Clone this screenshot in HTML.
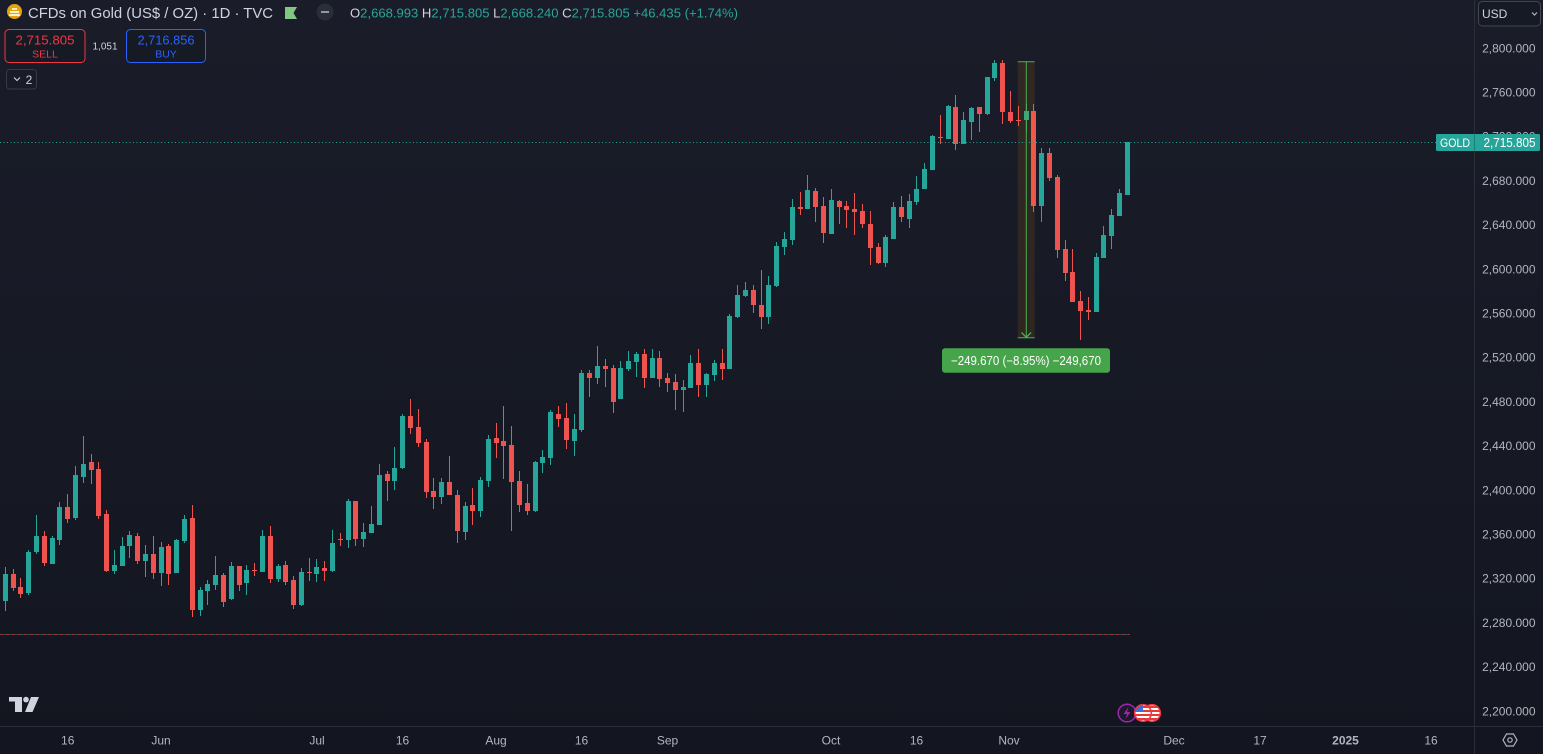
<!DOCTYPE html>
<html><head><meta charset="utf-8"><style>
html,body{margin:0;padding:0;background:#161a25;overflow:hidden;}
svg{display:block;font-family:"Liberation Sans",sans-serif;}
</style></head><body>
<svg id="s" width="1543" height="754" viewBox="0 0 1543 754" xmlns="http://www.w3.org/2000/svg">
<defs>
<linearGradient id="bg" x1="0" y1="0" x2="0" y2="1"><stop offset="0" stop-color="#1a1d29"/><stop offset="1" stop-color="#131620"/></linearGradient>
<clipPath id="f1"><circle cx="1152" cy="713" r="8"/></clipPath>
<clipPath id="f2"><circle cx="1143" cy="713" r="8"/></clipPath>
</defs>
<rect width="1543" height="754" fill="url(#bg)"/>

<!-- dashed low line -->
<line x1="0" y1="634.5" x2="1130" y2="634.5" stroke="#ef5350" stroke-opacity="0.55" stroke-dasharray="3 3"/>
<line x1="3" y1="634.5" x2="1130" y2="634.5" stroke="#26a69a" stroke-opacity="0.45" stroke-dasharray="3 3"/>

<g id="candles"></g>

<!-- measure tool -->
<rect x="1017.7" y="61.3" width="17" height="277" fill="rgba(255,152,0,0.1)"/>
<line x1="1026.3" y1="61.3" x2="1026.3" y2="338.3" stroke="#4caf50" stroke-width="1"/>
<line x1="1017.7" y1="61.8" x2="1034.7" y2="61.8" stroke="#4caf50" stroke-width="1"/>
<line x1="1017.7" y1="337.8" x2="1034.7" y2="337.8" stroke="#4caf50" stroke-width="1"/>
<polyline points="1021.5,332.5 1026.3,337.3 1031.1,332.5" fill="none" stroke="#4caf50" stroke-width="1.3"/>
<rect x="942" y="348.3" width="168" height="24.5" rx="3" fill="#46a54a"/>
<text x="1026" y="365" font-size="12.5" fill="#ffffff" text-anchor="middle" textLength="150" lengthAdjust="spacingAndGlyphs">−249.670 (−8.95%) −249,670</text>

<!-- current price dotted line -->
<line x1="0" y1="142.5" x2="1436" y2="142.5" stroke="#26a69a" stroke-width="1" stroke-dasharray="1 2.5"/>

<!-- axes separators -->
<line x1="0" y1="726.5" x2="1543" y2="726.5" stroke="#2a2e39"/>
<line x1="1474.5" y1="0" x2="1474.5" y2="754" stroke="#2a2e39"/>

<g id="paxis" font-size="12" fill="#b2b5be" text-anchor="end"></g>

<!-- GOLD label -->
<rect x="1436" y="134" width="104" height="17" rx="1.5" fill="#26a69a"/>
<line x1="1474.5" y1="134" x2="1474.5" y2="151" stroke="#1e7f76"/>
<text x="1440" y="147" font-size="12" fill="#ffffff" textLength="30" lengthAdjust="spacingAndGlyphs">GOLD</text>
<text x="1535.5" y="147" font-size="12.5" fill="#ffffff" text-anchor="end" textLength="52" lengthAdjust="spacingAndGlyphs">2,715.805</text>

<!-- USD button -->
<rect x="1478.5" y="1.5" width="62" height="24.5" rx="4" fill="#161a25" stroke="#434651"/>
<text x="1482" y="18" font-size="12" fill="#d1d4dc">USD</text>
<polyline points="1532,12.5 1534.5,15 1537,12.5" fill="none" stroke="#b2b5be" stroke-width="1.2"/>

<!-- time axis -->
<g font-size="12" fill="#b2b5be" text-anchor="middle">
<text x="67.7" y="744.5">16</text>
<text x="161" y="744.5">Jun</text>
<text x="317" y="744.5">Jul</text>
<text x="402.5" y="744.5">16</text>
<text x="496" y="744.5">Aug</text>
<text x="581.5" y="744.5">16</text>
<text x="667.5" y="744.5">Sep</text>
<text x="831" y="744.5">Oct</text>
<text x="916.5" y="744.5">16</text>
<text x="1009" y="744.5">Nov</text>
<text x="1174" y="744.5">Dec</text>
<text x="1260" y="744.5">17</text>
<text x="1345.5" y="744.5" font-weight="bold">2025</text>
<text x="1431" y="744.5">16</text>
</g>
<!-- settings icon -->
<polygon points="1517,740 1513.5,746 1506.5,746 1503,740 1506.5,734 1513.5,734" fill="none" stroke="#b2b5be" stroke-width="1.2"/>
<circle cx="1510" cy="740" r="2.2" fill="none" stroke="#b2b5be" stroke-width="1.2"/>

<!-- TV logo -->
<g fill="#d1d4dc">
<rect x="9" y="697" width="13" height="4.5"/>
<rect x="15" y="697" width="7" height="15"/>
<circle cx="26" cy="699.6" r="2.8"/>
<polygon points="31,697 39,697 32.5,712 25,712"/>
</g>

<!-- event icons -->
<circle cx="1127" cy="713" r="8.8" fill="#1c1a2b" stroke="#9c27b0" stroke-width="1.5"/>
<polygon points="1128.5,707 1123.5,714 1127,714 1125.5,719 1130.5,712 1127,712" fill="#9c27b0"/>
<g clip-path="url(#f1)">
<rect x="1143" y="704" width="18" height="18" fill="#ffffff"/>
<rect x="1143" y="706" width="18" height="2" fill="#e53935"/>
<rect x="1143" y="710" width="18" height="2" fill="#e53935"/>
<rect x="1143" y="714" width="18" height="2" fill="#e53935"/>
<rect x="1143" y="718" width="18" height="2" fill="#e53935"/>
</g>
<circle cx="1152" cy="713" r="8.3" fill="none" stroke="#f23645" stroke-width="1.6"/>
<g clip-path="url(#f2)">
<rect x="1134" y="704" width="18" height="18" fill="#ffffff"/>
<rect x="1134" y="706" width="18" height="2" fill="#e53935"/>
<rect x="1134" y="710" width="18" height="2" fill="#e53935"/>
<rect x="1134" y="714" width="18" height="2" fill="#e53935"/>
<rect x="1134" y="718" width="18" height="2" fill="#e53935"/>
<rect x="1134" y="704" width="9" height="8" fill="#3d6fd6"/>
</g>
<circle cx="1143" cy="713" r="8.3" fill="none" stroke="#f23645" stroke-width="1.6"/>

<!-- header -->
<circle cx="14.5" cy="11.5" r="7.5" fill="#e8a30c"/>
<rect x="10" y="11" width="9" height="2" fill="#fff3c4"/>
<rect x="12" y="8" width="5" height="2" fill="#fff3c4"/>
<rect x="9" y="14" width="11" height="2" fill="#fff3c4"/>
<text x="28" y="18" font-size="15" fill="#d1d4dc" textLength="245" lengthAdjust="spacingAndGlyphs">CFDs on Gold (US$ / OZ) · 1D · TVC</text>
<polygon points="285,7 297,7 293.5,13 297,19 285,19" fill="#81c784"/>
<circle cx="325" cy="12" r="8.5" fill="#2a2e39"/>
<line x1="321" y1="12" x2="329" y2="12" stroke="#9598a1" stroke-width="2"/>
<text x="350" y="17.5" font-size="13" textLength="388" lengthAdjust="spacingAndGlyphs"><tspan fill="#d1d4dc">O</tspan><tspan fill="#26a69a">2,668.993 </tspan><tspan fill="#d1d4dc">H</tspan><tspan fill="#26a69a">2,715.805 </tspan><tspan fill="#d1d4dc">L</tspan><tspan fill="#26a69a">2,668.240 </tspan><tspan fill="#d1d4dc">C</tspan><tspan fill="#26a69a">2,715.805 +46.435 (+1.74%)</tspan></text>

<rect x="5" y="29.5" width="80" height="33" rx="4" fill="#161a25" stroke="#f23645"/>
<text x="45" y="44.5" font-size="13" fill="#f23645" text-anchor="middle" textLength="59" lengthAdjust="spacingAndGlyphs">2,715.805</text>
<text x="45" y="57.5" font-size="10.5" fill="#f23645" text-anchor="middle">SELL</text>
<text x="105" y="49.5" font-size="10" fill="#d1d4dc" text-anchor="middle">1,051</text>
<rect x="126.5" y="29.5" width="79" height="33" rx="4" fill="#161a25" stroke="#2962ff"/>
<text x="166" y="44.5" font-size="13" fill="#2962ff" text-anchor="middle" textLength="57" lengthAdjust="spacingAndGlyphs">2,716.856</text>
<text x="166" y="57.5" font-size="10.5" fill="#2962ff" text-anchor="middle">BUY</text>
<rect x="6.5" y="69.5" width="30" height="19.5" rx="3" fill="none" stroke="#363a45"/>
<polyline points="14,77.5 17,80.5 20,77.5" fill="none" stroke="#d1d4dc" stroke-width="1.1"/>
<text x="29" y="84" font-size="12" fill="#d1d4dc" text-anchor="middle">2</text>
</svg>
<script>
(function(){
var NS="http://www.w3.org/2000/svg";
var segs=[
[0,420,[
"G 462 543 441 573","R 462 504 447 513","R 501 522 474 534","G 396 519 390 525","G 348 396 285 402",
"R 348 429 333 438","G 354 432 348 432","G 261 360 246 375","R 261 297 222 309","G 165 294 138 300",
"G 132 171 48 189","R 126 150 102 192","R 147 288 126 297","R 282 453 270 456","G 435 453 390 462",
"G 378 438 351 438","G 345 378 333 414","R 348 423 339 432","G 402 423 375 471","R 402 459 348 477",
"G 381 459 366 498","R 378 462 372 495","G 360 459 357 459","G 297 363 285 369","R 294 570 255 591"]],
[25,390,[
"G 600 660 591 678","G 582 603 570 645","G 555 585 498 600","R 555 636 549 651","G 528 627 516 630",
"R 528 585 528 603","G 540 579 525 615","R 540 543 519 558","G 438 546 420 546","R 438 567 408 579",
"G 528 567 522 576","R 525 576 513 585","R 570 645 558 657","G 546 645 534 648","R 546 549 504 573",
"G 531 552 507 576","R 534 543 513 573","G 459 543 420 546","R 447 450 429 468","G 333 450 327 474",
"R 333 447 333 468","G 426 447 399 471","G 402 429 348 429","G 255 405 222 405"]],
[49,330,[
"R 432 453 423 513","G 414 453 351 480","G 258 414 252 417","R 258 294 207 312","R 291 339 237 351",
"R 336 486 327 504","R 483 501 444 537","G 456 501 444 522","R 456 495 378 495","R 495 603 480 639",
"G 528 606 516 630","R 525 543 474 585","G 450 543 441 561","G 327 453 315 471","R 324 339 279 384",
"R 333 348 228 447","R 345 456 288 603","R 453 525 423 546","R 519 543 462 555","G 396 543 393 546",
"G 381 399 360 429","G 246 384 240 405","R 252 267 228 291","R 264 330 219 357","G 297 333 252 378"]],
[74,230,[
"G 429 600 420 606","R 429 444 420 501","G 408 444 348 462","R 408 417 387 471","R 414 516 405 549",
"G 414 507 393 507","G 393 417 363 423","G 372 396 366 441","R 372 444 357 474","G 384 444 357 444",
"R 384 447 363 471","R 444 459 429 486","R 456 480 432 540","G 471 480 450 546","G 399 474 375 474",
"R 399 465 357 501","G 432 465 429 501","G 399 435 390 453","R 399 417 357 450","G 258 417 252 417",
"G 195 261 165 264","G 180 198 156 201","R 180 225 165 249","R 225 261 120 297"]],
[98,90,[
"G 585 681 558 702","G 468 588 456 591","G 447 471 426 495","G 351 450 327 465","R 351 357 306 375",
"G 300 357 255 357","R 303 351 294 396","R 348 429 321 459","G 330 432 297 432","R 333 351 330 402",
"R 348 360 333 414","R 357 366 309 435","R 363 402 342 414","R 402 474 363 525","R 471 519 459 522",
"G 441 519 435 531","G 351 447 336 447"]],
[115,50,[
"R 471 501 438 516","G 453 507 432 534","G 417 456 378 465","G 357 417 339 417","G 258 360 255 360",
"R 261 264 195 282","G 168 267 165 267","R 171 282 135 300","G 210 282 186 282","G 174 216 171 270",
"R 171 192 171 246","G 81 192 81 195","G 39 84 30 93","R 39 186 30 222","R 186 213 123 219",
"R 210 213 168 228","G 183 210 162 246","R 183 468 162 486","G 309 468 294 516","R 309 384 294 393",
"R 381 600 375 624","R 597 669 570 693","R 666 756 597 756","R 753 783 723 870","R 780 786 741 810",
"G 621 786 609 786","G 555 624 528 624","G 495 558 477 597","G 429 498 417 498","G 276 435 276 435"]]
];
var g=document.getElementById("candles");
function rect(x,y,w,h,c){var r=document.createElementNS(NS,"rect");r.setAttribute("x",x);r.setAttribute("y",y);r.setAttribute("width",w);r.setAttribute("height",h);r.setAttribute("fill",c);g.appendChild(r);}
segs.forEach(function(s){
 var start=s[0],oy=s[1];
 s[2].forEach(function(str,k){
  var p=str.split(" ");var i=start+k;
  var col=p[0]=="G"?"#26a69a":"#ef5350";
  var bt=Math.round(oy+(+p[1])/3),bb=Math.round(oy+(+p[2])/3),wt=Math.round(oy+(+p[3])/3),wb=Math.round(oy+(+p[4])/3);
  var cx=Math.floor(5.3+7.792*i);
  if(wb<bb)wb=bb; if(wt>bt)wt=bt;
  rect(cx,wt,1,Math.max(1,wb-wt),col);
  rect(cx-2,bt,5,Math.max(1,bb-bt),col);
 });
});
var pa=document.getElementById("paxis");
for(var p=2800;p>=2200;p-=40){
 var y=48+(2800-p)*1.105;
 var t=document.createElementNS(NS,"text");
 t.setAttribute("x","1535.5");t.setAttribute("y",(y+4.3).toFixed(1));
 var s=p.toString();s=s[0]+","+s.slice(1)+".000";
 t.textContent=s;pa.appendChild(t);
}
})();
</script>
</body></html>
